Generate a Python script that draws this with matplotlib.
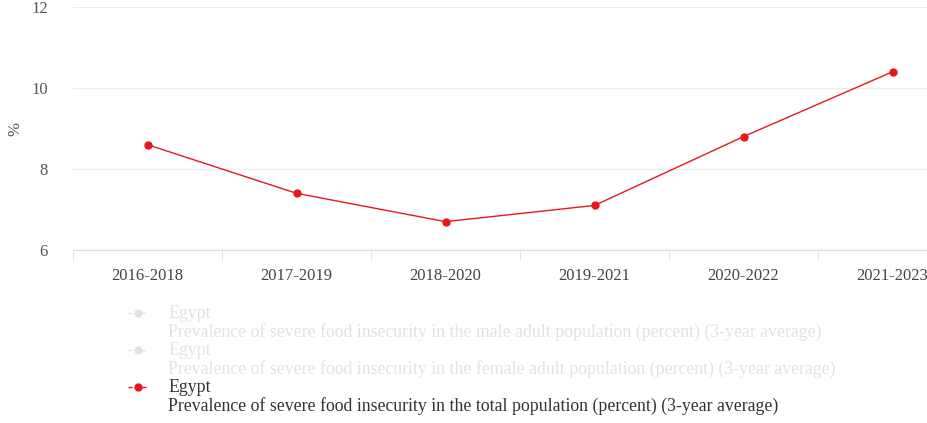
import matplotlib
matplotlib.use("Agg")
from matplotlib import pyplot as plt
from matplotlib.lines import Line2D
import numpy as np

periods = ["2016-2018", "2017-2019", "2018-2020", "2019-2021", "2020-2022", "2021-2023"]
total_pct = [8.6, 7.4, 6.7, 7.1, 8.8, 10.4]

legend_country = "Egypt"
legend_series = [
    "Prevalence of severe food insecurity in the male adult population (percent) (3-year average)",
    "Prevalence of severe food insecurity in the female adult population (percent) (3-year average)",
    "Prevalence of severe food insecurity in the total population (percent) (3-year average)",
]

plt.rcParams['font.family'] = ['Liberation Serif', 'DejaVu Serif']

W, H = 927, 423
fig = plt.figure(figsize=(W / 100, H / 100), dpi=100)
# plot area runs past the right edge, like the original
ax = fig.add_axes([73 / W, 1 - 250 / H, 894 / W, 243 / H])

x = np.arange(len(periods))
red = '#e8171b'
ax.plot(x, total_pct, color=red, lw=1.0, marker='o', markersize=5, zorder=3)

ax.set_xlim(-0.5, len(periods) - 0.5)
ax.set_ylim(6, 12)
ax.set_yticks([6, 8, 10, 12])
ax.yaxis.grid(True, color='#ececec', lw=1)
ax.set_axisbelow(True)
for s in ['top', 'right', 'left']:
    ax.spines[s].set_visible(False)
ax.spines['bottom'].set_color('#dddddd')

ax.set_xticks(x)
ax.set_xticklabels(periods)
ax.set_xticks(np.arange(-0.5, len(periods), 1), minor=True)
ax.tick_params(axis='x', which='major', length=0, pad=13, labelsize=12, colors='#444444')
ax.tick_params(axis='x', which='minor', length=7, color='#dddddd')
ax.tick_params(axis='y', length=0, pad=18, labelsize=12, colors='#555555')
ax.set_ylabel('%', color='#555555', fontsize=12)
ax.yaxis.set_label_coords(-50 / 894, 0.5)

# legend, drawn by hand to match the stacked layout
rows = [(313, '#e2e2e2', '#e2e2e2'), (350, '#e2e2e2', '#e2e2e2'), (387, red, '#333333')]
for (ytop, mcol, tcol), desc in zip(rows, legend_series):
    yy = 1 - ytop / H
    fig.add_artist(Line2D([128 / W, 148 / W], [yy, yy], transform=fig.transFigure,
                          color=mcol, lw=1, ls=(0, (3, 2))))
    fig.add_artist(Line2D([138 / W], [yy], transform=fig.transFigure,
                          color=mcol, marker='o', markersize=5, lw=0))
    fig.text(168 / W, yy, legend_country, color=tcol, fontsize=12.8, va='center')
    fig.text(168 / W, 1 - (ytop + 19) / H, desc, color=tcol, fontsize=12.8, va='center')

fig.savefig('out.png', dpi=100)
